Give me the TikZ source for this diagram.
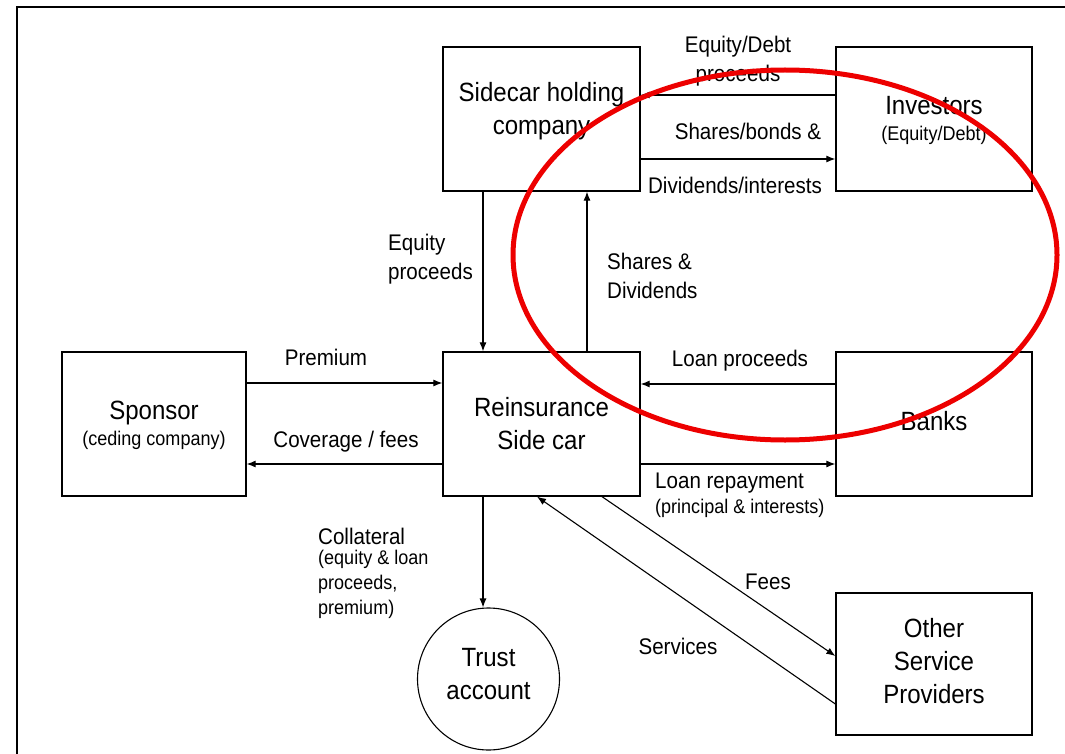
\documentclass[tikz,border=0pt]{standalone}
\usepackage{fontspec}
\setmainfont{Liberation Sans}[FakeStretch=0.91]
\usetikzlibrary{arrows.meta}
\begin{document}
\begin{tikzpicture}[x=1pt,y=-1pt,
  box/.style={draw, line width=1.3pt, minimum width=197pt, minimum height=144pt, inner sep=0pt},
  btext/.style={align=center, inner sep=0pt, font=\fontsize{26.4}{33}\selectfont},
  arr/.style={line width=1.1pt, -{Latex[length=9pt,width=7pt]}},
  lbl/.style={font=\fontsize{22.6}{29.5}\selectfont, inner sep=0pt},
  sml/.style={font=\fontsize{19.8}{25}\selectfont, inner sep=0pt},
  frame/.style={line width=2.3pt},
  mark red/.style={draw=red!93!black, line width=5pt}
]
\newcommand{\smalltxt}{\fontsize{19.8}{25}\selectfont}
\useasboundingbox (0,0) rectangle (1065,754);
\draw[frame] (17,754) -- (17,7) -- (1065,7);

% nodes
\node[box, label={[btext, yshift=7.5pt]center:{Sidecar holding\\company}}] (hold) at (541.5,119) {};
\node[box, minimum width=196pt, label={[btext, yshift=-1pt]center:{Investors\\[-7pt]{\smalltxt (Equity/Debt)}}}] (inv) at (934,119) {};
\node[box, minimum width=184pt, label={[btext, yshift=-1pt]center:{Sponsor\\[-7pt]{\smalltxt (ceding company)}}}] (spon) at (154,424) {};
\node[box, label={[btext]center:{Reinsurance\\Side car}}] (rein) at (541.5,424) {};
\node[box, minimum width=196pt, label={[btext, yshift=3pt]center:{Banks}}] (bank) at (934,424) {};
\node[box, minimum width=196pt, minimum height=142pt, label={[btext, yshift=3pt]center:{Other\\Service\\Providers}}] (osp) at (934,664) {};
\node[draw, circle, line width=1.1pt, minimum size=142pt, inner sep=0pt, label={[btext, yshift=4.5pt]center:{Trust\\account}}] (trust) at (488.5,679) {};

% connectors
\draw[arr] ([yshift=24pt]inv.west) -- ([yshift=24pt]hold.east);
\draw[arr] ([yshift=-40pt]hold.east) -- ([yshift=-40pt]inv.west);
\draw[arr] ([xshift=-58.5pt]hold.south) -- ([xshift=-58.5pt]rein.north);
\draw[arr] ([xshift=45.5pt]rein.north) -- ([xshift=45.5pt]hold.south);
\draw[arr] ([yshift=41pt]spon.east) -- ([yshift=41pt]rein.west);
\draw[arr] ([yshift=-40pt]rein.west) -- ([yshift=-40pt]spon.east);
\draw[arr] ([yshift=40pt]bank.west) -- ([yshift=40pt]rein.east);
\draw[arr] ([yshift=-40pt]rein.east) -- ([yshift=-40pt]bank.west);
\draw[arr] ([xshift=-58.5pt]rein.south) -- ([xshift=-58.5pt]rein.south |- trust.north);
\draw[arr] ([xshift=60.5pt]rein.south) -- ([yshift=8pt]osp.west);
\draw[arr] ([yshift=-40pt]osp.west) -- ([xshift=-4.5pt]rein.south);

% labels
\node[lbl, align=center] (l1) at (738,61) {Equity/Debt\\proceeds};
\node[lbl] (l2) at (748,131) {Shares/bonds \&};
\node[lbl] (l3) at (735,185) {Dividends/interests};
\node[lbl, align=left, anchor=west] (l4) at (388,259) {Equity\\proceeds};
\node[lbl, align=left, anchor=west] (l5) at (607,276) {Shares \&\\Dividends};
\node[lbl] (l6) at (326,357) {Premium};
\node[lbl] (l7) at (346,442) {Coverage / fees};
\node[lbl] (l8) at (740,361) {Loan proceeds};
\node[lbl, anchor=west] (l9) at (655,483) {Loan repayment};
\node[sml, anchor=west] (l10) at (655,508) {(principal \& interests)};
\node[lbl, anchor=west] (l11) at (318,536) {Collateral};
\node[sml, align=left, anchor=north west] (l12) at (318,550) {(equity \& loan\\proceeds,\\premium)};
\node[lbl] (l13) at (768,582) {Fees};
\node[lbl] (l14) at (678,646) {Services};

% red highlight
\draw[mark red] (785,255) ellipse [x radius=272, y radius=185];
\end{tikzpicture}
\end{document}
